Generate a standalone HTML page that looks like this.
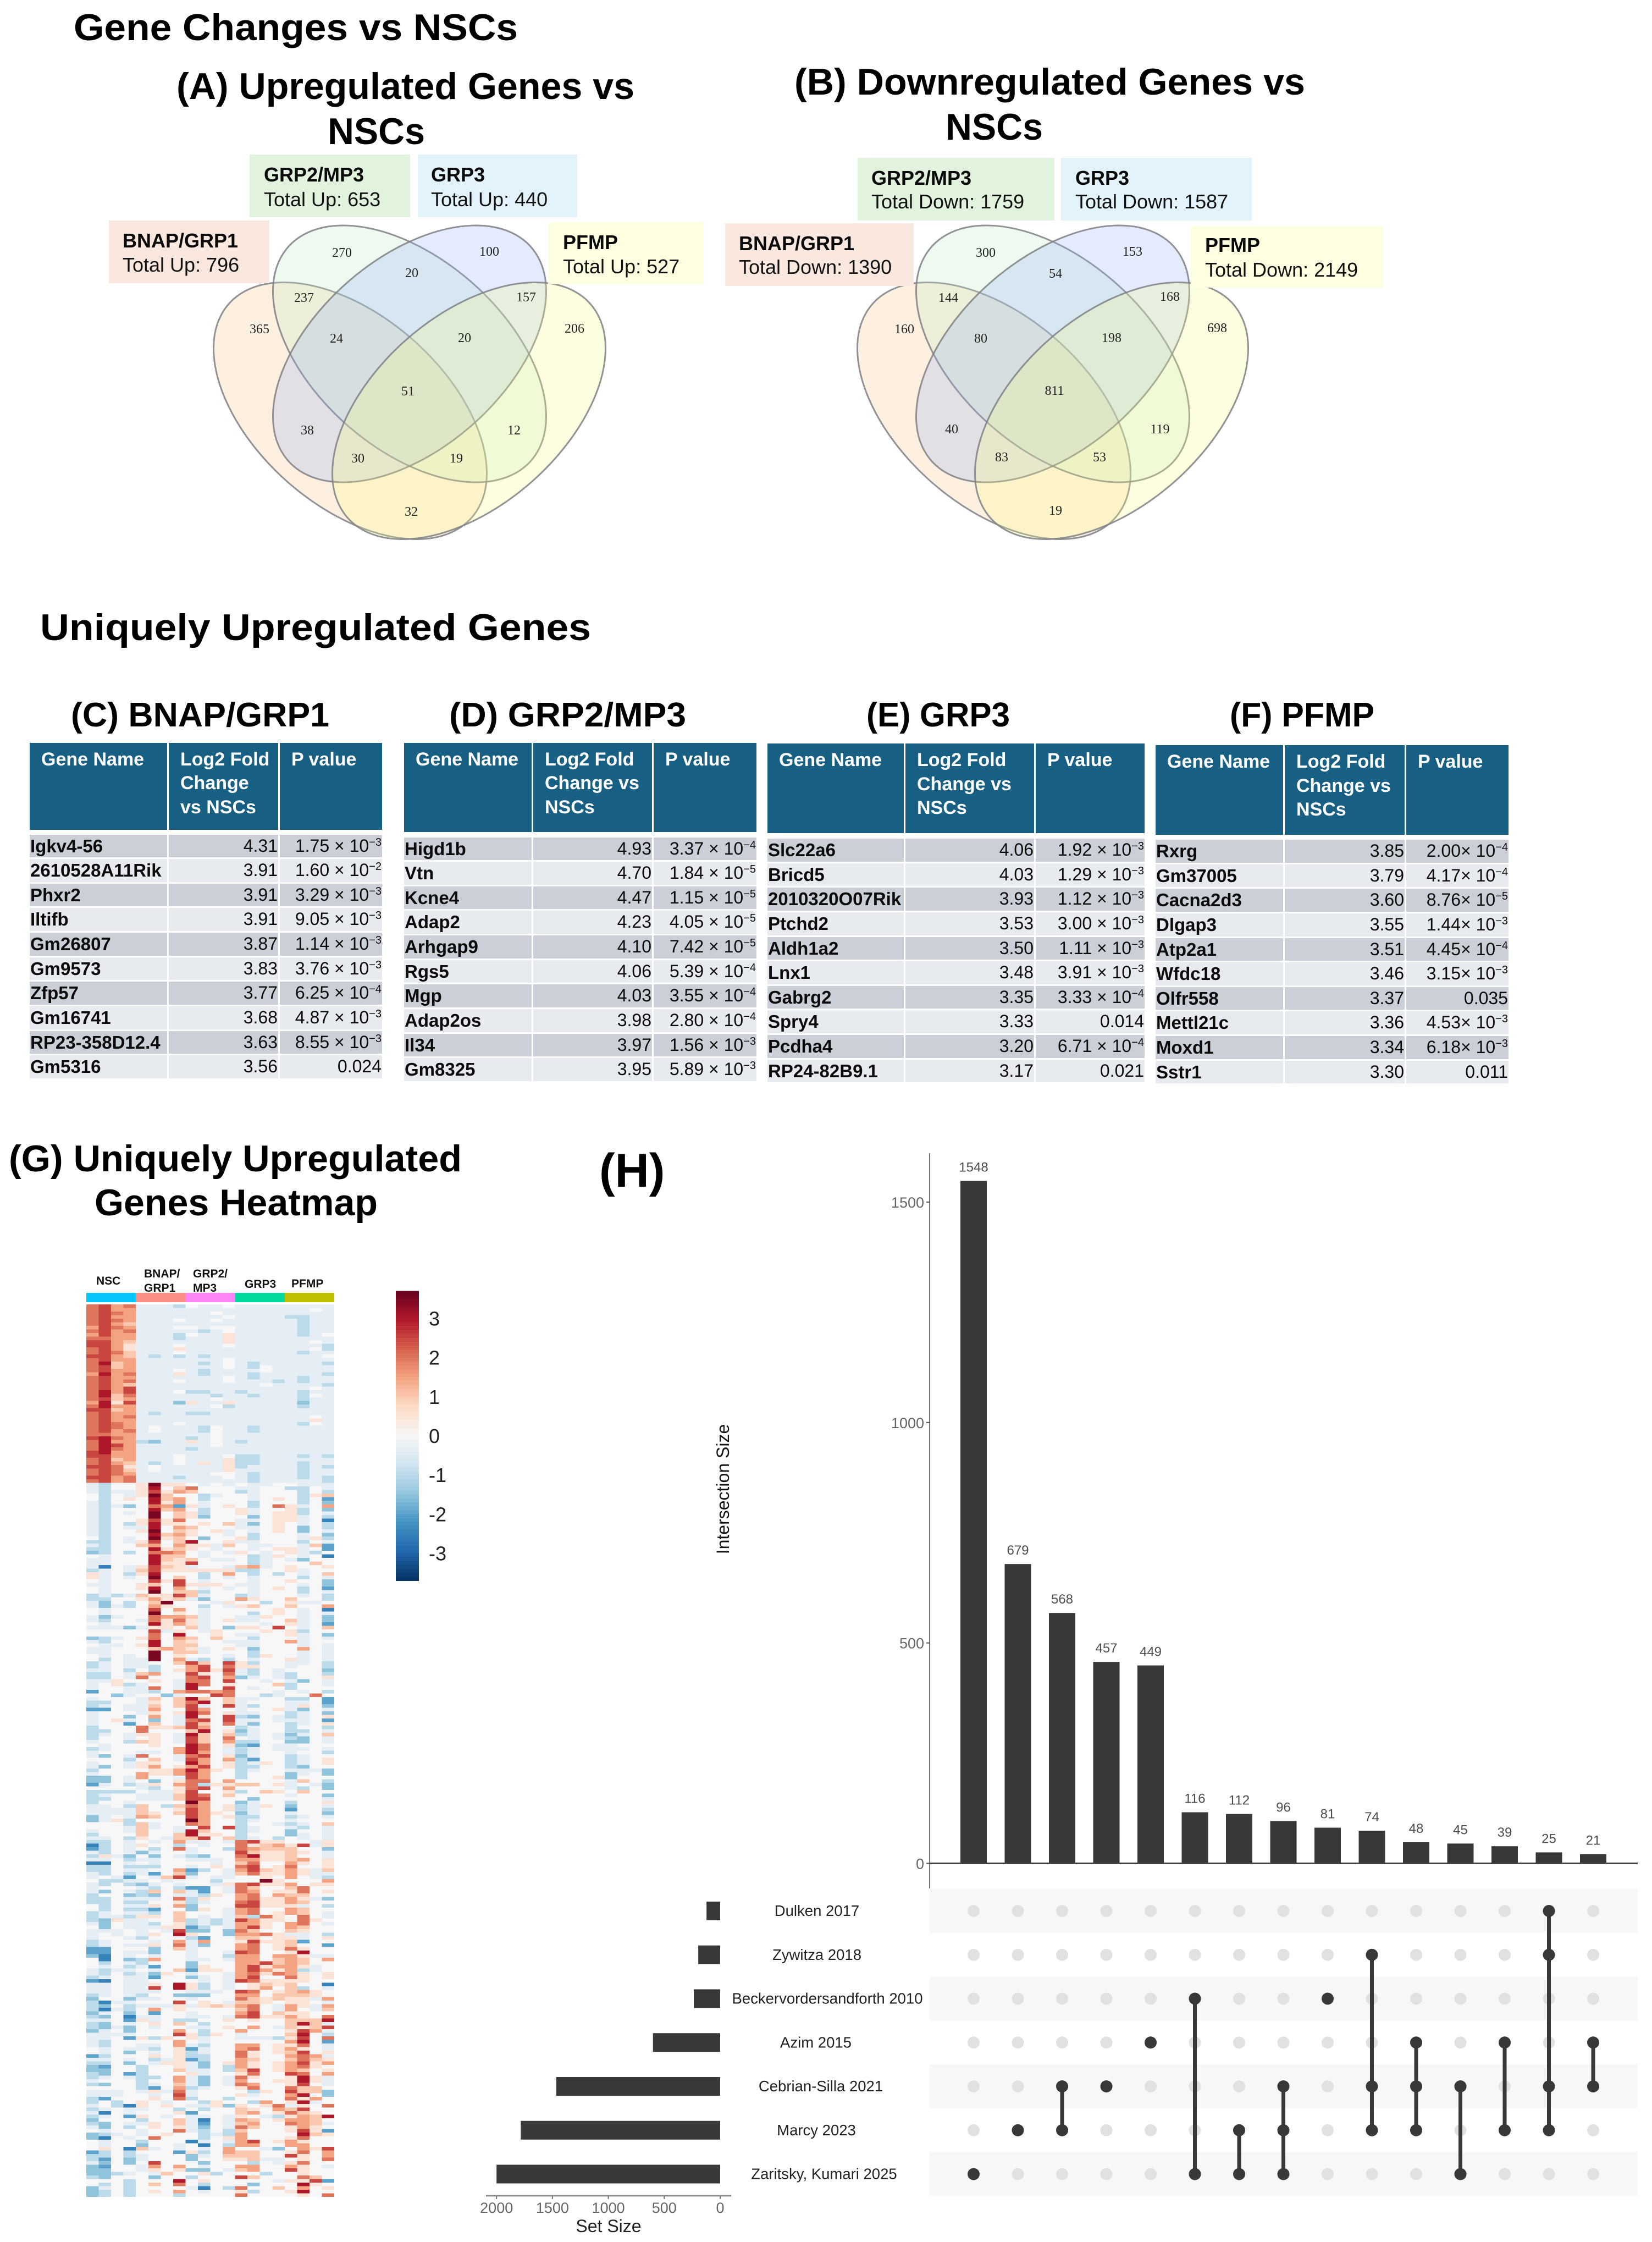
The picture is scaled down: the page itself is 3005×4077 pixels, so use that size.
<!DOCTYPE html>
<html lang="en">
<head>
<meta charset="utf-8">
<title>Gene Changes vs NSCs</title>
<style>
html,body{margin:0;padding:0;background:#fff}
body{position:relative;width:3005px;height:4077px;overflow:hidden;font-family:"Liberation Sans",sans-serif;color:#000}
#canvas{position:absolute;left:0;top:0}
#canvas text{font-family:"Liberation Sans",sans-serif}
.t{font-weight:700;font-size:68px;fill:#000}
.lb{font-weight:700;font-size:36px;fill:#0a0a0a}
.lr{font-size:36px;fill:#111}
#canvas text.vn{font-family:"Liberation Serif",serif;font-size:24px;fill:#222;text-anchor:middle;dominant-baseline:central}
.ve{stroke:#7f8085;stroke-width:3;stroke-opacity:.85;fill-opacity:.25;vector-effect:non-scaling-stroke}
.tbl{position:absolute;color:#0b0b0b}
.tr{display:grid;grid-template-columns:var(--c);height:44.65px}
.tr>div{box-sizing:border-box;border-right:3px solid #fff;border-bottom:3px solid #fff;line-height:41px;white-space:nowrap;overflow:hidden;font-size:32px;text-align:right;padding-right:1px}
.tr>div:first-child{text-align:left;font-weight:700;font-size:33px;padding-left:1px}
.tr>div:last-child{border-right:0}
.tr:nth-child(even)>div{background:#cbd0d8}
.tr:nth-child(odd)>div{background:#e7eaee}
.tr.hd{height:var(--h);margin-bottom:var(--g)}
.tr.hd>div,.tr.hd>div:first-child{background:#185f84;color:#fff;font-weight:700;font-size:34px;line-height:43.5px;text-align:left;padding:9px 0 0 21px;border-bottom:0;white-space:nowrap}
sup{font-size:20px;line-height:0;vertical-align:baseline;position:relative;top:-11px}
</style>
</head>
<body>
<svg id="canvas" width="3005" height="4077" viewBox="0 0 3005 4077" xmlns="http://www.w3.org/2000/svg">
<text class="t" x="134" y="73" textLength="808" lengthAdjust="spacingAndGlyphs">Gene Changes vs NSCs</text>
<text class="t" x="321" y="180" textLength="833" lengthAdjust="spacingAndGlyphs">(A) Upregulated Genes vs</text>
<text class="t" x="596" y="262" textLength="177" lengthAdjust="spacingAndGlyphs">NSCs</text>
<text class="t" x="1445" y="172" textLength="929" lengthAdjust="spacingAndGlyphs">(B) Downregulated Genes vs</text>
<text class="t" x="1720" y="254" textLength="177" lengthAdjust="spacingAndGlyphs">NSCs</text>

<g>
<g transform="translate(637,747) scale(1,.743) rotate(-32)"><ellipse class="ve" rx="195" ry="350" fill="#fcc484"/></g>
<g transform="translate(745,643.5) scale(1,.743) rotate(-32)"><ellipse class="ve" rx="195" ry="350" fill="#bcecc4"/></g>
<g transform="translate(745,643.5) scale(1,.743) rotate(32)"><ellipse class="ve" rx="195" ry="350" fill="#94b0f4"/></g>
<g transform="translate(853,747) scale(1,.743) rotate(32)"><ellipse class="ve" rx="195" ry="350" fill="#f8fc84"/></g>
<g>
<text class="vn" x="622" y="460">270</text><text class="vn" x="890" y="458">100</text><text class="vn" x="749" y="497">20</text><text class="vn" x="553" y="542">237</text><text class="vn" x="957" y="541">157</text><text class="vn" x="472" y="599">365</text><text class="vn" x="612" y="616">24</text><text class="vn" x="845" y="615">20</text><text class="vn" x="1045" y="598">206</text><text class="vn" x="742" y="712">51</text><text class="vn" x="559" y="783">38</text><text class="vn" x="935" y="783">12</text><text class="vn" x="651" y="834">30</text><text class="vn" x="830" y="834">19</text><text class="vn" x="748" y="931">32</text>
</g>
</g>
<g>
<rect x="454" y="281" width="292" height="114" fill="#e1f3dc"/>
<text class="lb" x="480" y="330">GRP2/MP3</text><text class="lr" x="480" y="375">Total Up: 653</text>
<rect x="760" y="281" width="290" height="114" fill="#e3f3fb"/>
<text class="lb" x="784" y="330">GRP3</text><text class="lr" x="784" y="375">Total Up: 440</text>
<rect x="198" y="401" width="292" height="114" fill="#fae8df"/>
<text class="lb" x="223" y="450">BNAP/GRP1</text><text class="lr" x="223" y="494">Total Up: 796</text>
<rect x="997" y="404" width="282" height="113" fill="#fefee0"/>
<text class="lb" x="1024" y="453">PFMP</text><text class="lr" x="1024" y="497">Total Up: 527</text>
</g>

<g>
<g transform="translate(1808,747) scale(1,.743) rotate(-32)"><ellipse class="ve" rx="195" ry="350" fill="#fcc484"/></g>
<g transform="translate(1915,643.5) scale(1,.743) rotate(-32)"><ellipse class="ve" rx="195" ry="350" fill="#bcecc4"/></g>
<g transform="translate(1915,643.5) scale(1,.743) rotate(32)"><ellipse class="ve" rx="195" ry="350" fill="#94b0f4"/></g>
<g transform="translate(2022,747) scale(1,.743) rotate(32)"><ellipse class="ve" rx="195" ry="350" fill="#f8fc84"/></g>
<g>
<text class="vn" x="1793" y="460">300</text><text class="vn" x="2060" y="458">153</text><text class="vn" x="1920" y="498">54</text><text class="vn" x="1725" y="542">144</text><text class="vn" x="2128" y="540">168</text><text class="vn" x="1645" y="599">160</text><text class="vn" x="1784" y="616">80</text><text class="vn" x="2022" y="615">198</text><text class="vn" x="2214" y="597">698</text><text class="vn" x="1918" y="711">811</text><text class="vn" x="1731" y="781">40</text><text class="vn" x="2110" y="781">119</text><text class="vn" x="1822" y="832">83</text><text class="vn" x="2000" y="832">53</text><text class="vn" x="1920" y="929">19</text>
</g>
</g>
<g>
<rect x="1560" y="287" width="358" height="114" fill="#e1f3dc"/>
<text class="lb" x="1585" y="336">GRP2/MP3</text><text class="lr" x="1585" y="379">Total Down: 1759</text>
<rect x="1930" y="287" width="347" height="114" fill="#e3f3fb"/>
<text class="lb" x="1956" y="336">GRP3</text><text class="lr" x="1956" y="379">Total Down: 1587</text>
<rect x="1319" y="406" width="343" height="114" fill="#fae8df"/>
<text class="lb" x="1344" y="455">BNAP/GRP1</text><text class="lr" x="1344" y="498">Total Down: 1390</text>
<rect x="2166" y="411" width="349" height="112" fill="#fefee0"/>
<text class="lb" x="2192" y="458">PFMP</text><text class="lr" x="2192" y="503">Total Down: 2149</text>
</g>

<text class="t" x="73" y="1164" textLength="1002" lengthAdjust="spacingAndGlyphs">Uniquely Upregulated Genes</text>
<text class="t" x="129" y="1321" style="font-size:62px" textLength="470" lengthAdjust="spacingAndGlyphs">(C) BNAP/GRP1</text>
<text class="t" x="817" y="1321" style="font-size:62px" textLength="431" lengthAdjust="spacingAndGlyphs">(D) GRP2/MP3</text>
<text class="t" x="1576" y="1321" style="font-size:62px" textLength="261" lengthAdjust="spacingAndGlyphs">(E) GRP3</text>
<text class="t" x="2237" y="1321" style="font-size:62px" textLength="263" lengthAdjust="spacingAndGlyphs">(F) PFMP</text>

<text class="t" x="16" y="2130" textLength="824" lengthAdjust="spacingAndGlyphs">(G) Uniquely Upregulated</text>
<text class="t" x="172" y="2210" textLength="515" lengthAdjust="spacingAndGlyphs">Genes Heatmap</text>
<text class="t" x="1090" y="2158" style="font-size:86px">(H)</text>

<g id="heatmap"></g>
<g id="colorbar"></g>
<g id="upset"></g>
</svg>

<div class="tbl" style="left:54px;top:1350.5px;--c:253px 202px 186px;--h:158px;--g:9px">
<div class="tr hd"><div>Gene Name</div><div>Log2 Fold<br>Change<br>vs NSCs</div><div>P value</div></div>
<div class="tr"><div>Igkv4-56</div><div>4.31</div><div>1.75 × 10<sup>−3</sup></div></div>
<div class="tr"><div>2610528A11Rik</div><div>3.91</div><div>1.60 × 10<sup>−2</sup></div></div>
<div class="tr"><div>Phxr2</div><div>3.91</div><div>3.29 × 10<sup>−3</sup></div></div>
<div class="tr"><div>Iltifb</div><div>3.91</div><div>9.05 × 10<sup>−3</sup></div></div>
<div class="tr"><div>Gm26807</div><div>3.87</div><div>1.14 × 10<sup>−3</sup></div></div>
<div class="tr"><div>Gm9573</div><div>3.83</div><div>3.76 × 10<sup>−3</sup></div></div>
<div class="tr"><div>Zfp57</div><div>3.77</div><div>6.25 × 10<sup>−4</sup></div></div>
<div class="tr"><div>Gm16741</div><div>3.68</div><div>4.87 × 10<sup>−3</sup></div></div>
<div class="tr"><div>RP23-358D12.4</div><div>3.63</div><div>8.55 × 10<sup>−3</sup></div></div>
<div class="tr"><div>Gm5316</div><div>3.56</div><div>0.024</div></div>
</div>

<div class="tbl" style="left:735px;top:1350.5px;--c:235px 219px 187px;--h:162px;--g:10px">
<div class="tr hd"><div>Gene Name</div><div>Log2 Fold<br>Change vs<br>NSCs</div><div>P value</div></div>
<div class="tr"><div>Higd1b</div><div>4.93</div><div>3.37 × 10<sup>−4</sup></div></div>
<div class="tr"><div>Vtn</div><div>4.70</div><div>1.84 × 10<sup>−5</sup></div></div>
<div class="tr"><div>Kcne4</div><div>4.47</div><div>1.15 × 10<sup>−5</sup></div></div>
<div class="tr"><div>Adap2</div><div>4.23</div><div>4.05 × 10<sup>−5</sup></div></div>
<div class="tr"><div>Arhgap9</div><div>4.10</div><div>7.42 × 10<sup>−5</sup></div></div>
<div class="tr"><div>Rgs5</div><div>4.06</div><div>5.39 × 10<sup>−4</sup></div></div>
<div class="tr"><div>Mgp</div><div>4.03</div><div>3.55 × 10<sup>−4</sup></div></div>
<div class="tr"><div>Adap2os</div><div>3.98</div><div>2.80 × 10<sup>−4</sup></div></div>
<div class="tr"><div>Il34</div><div>3.97</div><div>1.56 × 10<sup>−3</sup></div></div>
<div class="tr"><div>Gm8325</div><div>3.95</div><div>5.89 × 10<sup>−3</sup></div></div>
</div>

<div class="tbl" style="left:1396px;top:1352px;--c:251px 237px 198px;--h:163px;--g:10px">
<div class="tr hd"><div>Gene Name</div><div>Log2 Fold<br>Change vs<br>NSCs</div><div>P value</div></div>
<div class="tr"><div>Slc22a6</div><div>4.06</div><div>1.92 × 10<sup>−3</sup></div></div>
<div class="tr"><div>Bricd5</div><div>4.03</div><div>1.29 × 10<sup>−3</sup></div></div>
<div class="tr"><div>2010320O07Rik</div><div>3.93</div><div>1.12 × 10<sup>−3</sup></div></div>
<div class="tr"><div>Ptchd2</div><div>3.53</div><div>3.00 × 10<sup>−3</sup></div></div>
<div class="tr"><div>Aldh1a2</div><div>3.50</div><div>1.11 × 10<sup>−3</sup></div></div>
<div class="tr"><div>Lnx1</div><div>3.48</div><div>3.91 × 10<sup>−3</sup></div></div>
<div class="tr"><div>Gabrg2</div><div>3.35</div><div>3.33 × 10<sup>−4</sup></div></div>
<div class="tr"><div>Spry4</div><div>3.33</div><div>0.014</div></div>
<div class="tr"><div>Pcdha4</div><div>3.20</div><div>6.71 × 10<sup>−4</sup></div></div>
<div class="tr"><div>RP24-82B9.1</div><div>3.17</div><div>0.021</div></div>
</div>

<div class="tbl" style="left:2102px;top:1355px;--c:235px 221px 186px;--h:163px;--g:9px">
<div class="tr hd"><div>Gene Name</div><div>Log2 Fold<br>Change vs<br>NSCs</div><div>P value</div></div>
<div class="tr"><div>Rxrg</div><div>3.85</div><div>2.00× 10<sup>−4</sup></div></div>
<div class="tr"><div>Gm37005</div><div>3.79</div><div>4.17× 10<sup>−4</sup></div></div>
<div class="tr"><div>Cacna2d3</div><div>3.60</div><div>8.76× 10<sup>−5</sup></div></div>
<div class="tr"><div>Dlgap3</div><div>3.55</div><div>1.44× 10<sup>−3</sup></div></div>
<div class="tr"><div>Atp2a1</div><div>3.51</div><div>4.45× 10<sup>−4</sup></div></div>
<div class="tr"><div>Wfdc18</div><div>3.46</div><div>3.15× 10<sup>−3</sup></div></div>
<div class="tr"><div>Olfr558</div><div>3.37</div><div>0.035</div></div>
<div class="tr"><div>Mettl21c</div><div>3.36</div><div>4.53× 10<sup>−3</sup></div></div>
<div class="tr"><div>Moxd1</div><div>3.34</div><div>6.18× 10<sup>−3</sup></div></div>
<div class="tr"><div>Sstr1</div><div>3.30</div><div>0.011</div></div>
</div>

<script>
// Heatmap values in half z-score units (value / 2 = z-score), one row per gene, 20 samples per row.
const heatGroupNames = ["NSC","BNAP/GRP1","GRP2/MP3","GRP3","PFMP"];
const heatNscGenes = [
[4,5,3,4,-1,-1,-1,-2,0,-1,-1,0,-1,-1,-1,-1,-1,-1,-1,-1],
[4,5,3,3,-1,-1,-1,-1,-1,-1,-1,-1,-1,-1,-1,-1,-1,-1,0,-1],
[4,5,4,3,-1,-1,-1,-1,-1,-1,0,-1,-1,-1,-1,-1,-1,-1,-1,-1],
[4,5,3,3,-1,-1,-1,-1,-1,-1,-1,0,-1,-1,-1,-1,-2,-2,-1,-1],
[4,5,4,3,-1,-1,-1,0,-1,-1,0,-1,-1,-1,-1,-1,-1,-2,-1,-1],
[4,5,3,2,-1,-1,-1,-1,-1,-1,-1,-1,-1,-1,-1,-1,-1,-2,-1,-1],
[3,5,4,3,-1,-1,-1,0,0,-1,0,0,-1,-1,-1,-1,-1,-2,-1,-1],
[4,5,3,4,-1,-1,-1,-1,-1,-2,-1,0,-1,-1,-1,-1,-1,-2,-1,-1],
[3,5,3,3,-1,-1,-1,-2,0,-1,-1,1,-1,-1,-1,-1,-1,-2,-1,0],
[4,4,3,3,-1,-1,-1,-2,-1,-1,-1,1,-1,-1,-1,-1,-1,-1,-1,-1],
[5,5,3,2,-1,-1,-1,-1,-1,-1,-1,1,-1,-1,-1,-1,-1,-1,0,-1],
[5,5,3,1,-1,-1,-1,0,-1,-1,-1,0,-1,-1,-1,-1,-1,-1,-1,-2],
[4,5,3,1,-1,-1,-1,1,-1,-1,-1,-1,-1,-1,-1,-1,-1,-1,0,-2],
[4,5,4,2,-1,-1,-1,0,-1,-1,-1,-1,-1,-1,-1,-1,-1,-2,-1,-1],
[5,5,3,2,-1,-2,-1,-2,-1,-2,-1,-1,-1,-1,-1,-1,-1,-1,-1,0],
[4,5,3,3,-1,-1,-1,-1,-1,-1,-1,0,-1,-1,-1,-1,-1,-1,-1,-1],
[4,6,2,3,-1,-1,-1,-1,-1,-2,-1,0,-1,-2,-1,-1,-1,-1,-1,-2],
[4,5,2,3,-1,-1,-1,-1,-1,-1,-1,0,-1,-2,0,-1,-1,-1,-1,-1],
[4,5,3,3,-1,-1,-1,0,-1,-2,-1,-1,-1,-1,0,-1,-1,-1,-1,-1],
[3,6,3,4,-1,-1,-1,1,-1,-2,-1,-1,-1,-2,-1,-1,-1,-1,-1,-2],
[4,5,3,3,-1,-1,-1,-1,-1,-1,-1,0,-1,-2,-1,-1,-1,-2,-1,-1],
[4,5,3,4,-1,-1,-1,0,-1,-1,-1,0,-1,-1,-1,-2,-1,-2,-1,-1],
[4,5,3,2,-1,-1,-1,-1,-1,-1,-1,-1,-1,-1,0,-1,-1,-1,-1,-2],
[4,5,3,5,-1,-1,-1,-1,-1,-1,-1,-1,-1,-1,-1,-1,-1,-1,0,-1],
[4,6,3,5,-1,-1,-1,0,-2,-2,-1,-1,-2,-1,-1,-1,-1,-2,-1,-1],
[4,6,2,4,-1,-1,-1,-1,-1,-1,-2,-1,-1,-2,-1,-1,-1,-2,0,-1],
[4,5,2,3,-1,-1,-1,-1,-1,-1,0,-1,-1,-1,-1,-1,-1,-2,-1,-1],
[3,6,1,5,-1,-1,-1,-3,1,-1,-1,1,-1,-1,-1,-1,-1,-3,-1,-1],
[4,6,3,3,-1,-1,-1,-1,-1,-1,0,-2,-1,-1,-1,-1,-1,-2,-1,-1],
[5,5,2,3,-1,-1,-1,-1,-1,-1,-1,-1,-1,-1,-1,-1,-1,-1,-1,-1],
[4,5,3,3,-1,-2,-1,-1,-2,-2,-1,-1,-1,-1,-1,-1,-1,-1,-1,-1],
[4,5,3,4,-1,-1,-1,-1,-1,-1,-1,-1,-1,-1,-1,-1,-1,-1,0,-1],
[4,5,3,3,-1,-1,-1,-1,-1,-1,-1,-1,-1,-1,-1,-1,-1,-1,1,-1],
[4,5,4,3,-1,-1,-1,0,-1,-1,-1,-1,-1,-1,-1,-1,-1,-2,0,-1],
[4,5,4,3,-1,0,-1,-1,-1,-2,0,-1,-1,-2,-1,-1,-1,-1,-1,-1],
[4,5,3,4,-1,0,-1,-1,-1,-2,0,-1,-1,-2,-1,-1,-1,-1,-1,-1],
[4,4,3,3,-1,-1,-1,-1,-1,-1,0,-1,-1,-1,-1,-1,-1,-1,-1,-1],
[5,6,4,3,-1,-1,-1,-1,-2,-1,0,-1,-1,-1,-1,-1,-1,-1,-1,-1],
[4,6,3,3,-2,-3,-1,-1,1,-1,0,-1,-2,-1,-1,-1,-1,-1,-1,-1],
[4,6,5,3,-1,-1,-1,-1,-1,-1,0,-1,-1,-1,-1,-1,-1,-1,-1,-1],
[4,6,4,3,-1,-1,-1,-1,-2,-1,-1,-1,-1,-1,-1,-1,-1,-1,-1,-1],
[5,6,3,3,-1,-1,-1,-1,-1,-1,-1,-1,-1,-1,-1,-1,-1,-1,-1,-1],
[5,5,3,3,-1,-1,-1,0,-1,-1,-1,0,-2,-2,-1,-1,-1,-2,-1,-2],
[4,5,2,3,-1,-1,-1,0,-1,-1,-1,1,-2,-2,-1,-1,-1,-1,-1,-1],
[4,5,3,2,-1,-2,-1,0,-1,1,-1,1,-2,-2,-1,-1,-1,-2,-1,-1],
[5,5,4,1,-1,0,-1,-1,-1,-1,-1,1,-2,-1,-1,-1,-1,-2,-1,-2],
[4,5,4,2,-1,0,-1,-1,-1,-1,-1,1,-1,-1,-1,-1,-1,-2,-1,-1],
[4,5,4,3,-1,-1,-1,-1,-1,-1,0,0,-1,-2,-1,-1,-1,-2,-1,-1],
[5,5,3,4,-1,-1,-1,-2,-1,-1,-1,0,-1,-2,-1,-1,-1,-2,-1,-2],
[4,5,3,4,-1,-1,-1,-1,-1,-1,-1,-1,-1,-2,-1,-1,-1,-1,-1,-2]
];
const heatBnapGenes = [
[-1,-2,0,0,1,7,1,1,0,-1,0,-1,0,-1,-1,0,0,-1,-1,-1],
[-1,-2,0,0,1,6,0,2,4,0,0,0,-1,-1,0,0,-2,-2,0,-1],
[-1,-2,-1,-1,1,5,1,3,2,0,0,0,-2,-1,0,0,0,-2,0,-2],
[0,-2,0,-1,1,7,2,0,0,-2,-1,0,0,-1,0,0,0,-2,1,2],
[0,-2,0,1,0,6,2,3,0,-2,0,0,0,-1,0,1,0,-2,0,-4],
[-1,-2,0,0,0,6,1,3,0,-1,0,0,0,-2,0,0,0,-2,0,-3],
[-1,-2,-1,-3,0,4,3,-4,1,-1,0,1,0,-2,0,4,1,-1,0,3],
[-1,-2,0,0,0,6,2,3,0,-2,0,0,1,-1,0,0,1,-2,0,-3],
[-1,-2,0,-1,0,7,0,2,1,-2,0,0,1,-1,0,1,1,-2,0,-1],
[-1,-2,0,0,0,7,0,2,1,-3,0,0,0,-3,0,1,1,-1,0,-2],
[-1,-2,0,0,1,5,1,4,0,0,0,0,-1,-1,0,1,1,-1,0,-5],
[-1,-2,0,-2,1,6,1,1,0,1,0,2,-1,-3,0,1,0,-1,0,-2],
[-1,-2,0,-1,-1,6,0,3,2,0,0,0,-1,-1,0,1,0,-3,0,-2],
[-1,-2,0,0,1,7,0,2,1,0,1,-1,0,-1,0,1,0,-3,0,-1],
[-1,-2,0,0,0,6,2,3,1,0,0,-1,0,-2,0,0,0,-1,0,-3],
[0,-2,0,-1,0,7,1,2,0,-3,0,0,1,-2,0,0,0,-1,1,-2],
[-2,-2,0,-1,1,5,0,2,6,0,0,1,-1,-1,0,0,0,-2,0,-1],
[-1,-2,0,0,2,3,0,3,1,1,-1,2,0,-1,-1,0,0,-1,2,-4],
[-2,-2,0,0,0,6,1,2,1,0,-1,0,0,-1,0,1,1,-1,0,-4],
[-3,-2,0,-2,0,4,4,3,0,-1,0,-1,1,0,-1,0,1,-1,-2,0],
[0,-1,0,0,0,6,2,2,0,-1,0,0,0,-2,-1,1,0,-1,0,-5],
[-1,-1,0,0,0,6,2,1,2,0,-1,-1,0,-2,-1,0,-1,-3,0,0],
[-1,-1,0,0,0,6,1,1,5,0,0,0,0,-2,-1,0,0,0,2,0],
[-1,-5,0,-1,1,5,2,1,-1,0,0,-1,2,3,-1,0,1,0,0,1],
[-2,-1,0,-1,2,5,1,1,1,1,1,1,-2,-2,0,0,1,-1,0,0],
[1,-1,0,-2,1,6,0,0,0,-2,0,3,0,-2,0,-2,0,-1,0,2],
[1,-1,0,-1,0,7,0,2,0,-2,0,-1,0,-1,0,0,0,-2,0,-1],
[0,-1,0,0,0,5,1,5,0,-1,0,0,0,-1,0,0,1,0,0,-3],
[-1,-1,0,0,1,2,0,5,1,1,1,0,-1,-1,0,0,0,-1,0,-3],
[0,-1,0,0,1,6,0,3,0,-1,0,-1,0,-1,0,1,0,-2,0,-4],
[0,-1,0,0,0,7,0,2,2,-2,0,0,0,-1,0,0,0,-2,0,-1],
[-2,-1,-2,-1,2,1,1,5,2,-1,0,0,-2,-1,0,0,0,-1,0,-2],
[-2,-2,0,0,1,3,1,2,-1,-3,0,0,3,1,0,0,2,0,0,-2],
[-1,-3,0,-2,0,2,7,0,0,0,-1,1,0,0,-2,0,1,-1,-1,0],
[-1,-3,-1,-2,0,3,1,0,0,-2,0,-1,1,2,0,0,2,0,0,3],
[0,-1,0,0,0,5,0,3,0,-1,0,0,0,0,0,1,0,-1,0,-5],
[0,-1,0,0,0,7,0,1,0,-1,0,0,0,-2,0,1,0,-1,0,-1],
[-1,-3,-1,0,0,4,3,3,2,-1,0,0,-1,-1,1,0,0,-1,0,-3],
[-1,-2,0,0,-1,4,1,4,1,-1,0,1,-1,-1,0,0,2,-1,0,-3],
[0,-1,0,0,0,6,1,3,1,-1,0,0,0,0,-1,0,1,-1,0,-4],
[-1,-1,-1,-3,-1,1,1,0,2,-1,0,-3,1,1,0,5,0,-1,0,2],
[0,0,0,0,0,5,-1,1,0,-1,1,0,0,0,1,0,1,-2,0,0],
[0,0,0,0,0,4,0,6,0,0,1,0,-1,-1,0,0,1,-1,0,-3],
[-3,-2,-1,0,1,4,0,3,2,0,2,0,0,-2,0,0,0,-1,0,-1],
[-1,-2,0,0,0,6,0,2,1,0,0,-1,-1,-1,0,0,3,-1,0,0],
[0,-1,-1,0,1,6,0,2,2,0,0,0,-1,-1,0,0,0,-1,0,-1],
[-1,-1,0,0,0,2,3,2,1,-1,0,1,0,-3,0,0,0,3,0,-1],
[-1,-1,0,0,0,7,0,2,2,-1,0,0,0,-2,0,0,0,-1,0,-1],
[0,-1,0,-1,0,7,0,1,0,0,0,-1,0,-2,1,0,0,-1,0,-1],
[0,-2,0,-1,-1,7,0,3,-1,-2,0,-2,0,-1,0,0,1,-1,0,-1]
];
const heatGrp2Genes = [
[-2,-1,0,-1,-1,0,0,2,5,2,0,5,1,-2,0,0,-1,-1,0,-2],
[-2,-1,0,-1,-1,-2,0,0,3,5,0,4,1,1,0,0,-1,0,0,-2],
[-1,-1,0,-2,0,-2,0,1,3,5,1,5,-1,-2,0,-1,0,0,0,-3],
[-2,-2,0,-1,2,3,0,0,5,1,0,4,-1,-2,0,-1,-2,0,0,-2],
[-2,-2,0,-1,4,0,0,0,4,5,0,3,-3,-1,0,-1,-2,0,0,1],
[-1,-1,1,0,0,1,0,-1,4,4,0,5,0,0,-1,0,-1,-3,0,-1],
[-1,0,1,-2,-1,0,0,-1,6,4,0,1,0,0,0,2,-2,0,0,-1],
[-1,0,0,-1,-1,4,0,-1,6,0,0,5,0,-1,0,0,-2,0,0,0],
[-4,0,0,-1,-1,-2,0,3,4,4,3,4,0,0,0,-1,0,-1,0,-2],
[0,0,-3,-1,0,0,-3,-1,0,0,5,4,0,0,-2,-1,0,0,4,0],
[-1,0,0,0,-1,2,0,2,6,2,0,2,-1,-1,0,0,-2,-2,0,-4],
[-2,-2,0,0,-1,1,0,2,4,6,0,2,-1,0,0,0,-1,-1,0,-4],
[-2,-1,0,-1,-1,2,0,2,5,-1,0,5,-1,-2,0,0,-1,1,0,-3],
[-4,-4,0,-1,-1,3,0,0,5,3,0,0,-1,0,0,1,-1,-3,0,-1],
[-1,0,0,0,-1,1,0,1,6,4,0,1,-1,-1,0,0,-2,-1,0,-3],
[-1,0,0,-3,0,3,0,-1,6,1,0,5,-2,-3,0,-1,-2,-1,0,1],
[-1,0,1,-1,0,-3,0,-1,4,5,0,5,-1,-1,0,-1,-1,-1,0,-4],
[-1,0,0,-4,0,2,0,-1,5,2,0,4,-1,-3,0,0,-2,-1,0,1],
[-2,0,0,0,4,1,1,2,5,3,0,0,-2,-1,0,0,-2,0,0,-2],
[-2,-2,0,0,4,0,0,0,2,6,0,1,-3,-1,0,0,-2,-2,0,-1],
[-2,-1,0,-1,1,1,0,-1,6,2,0,2,-2,-1,0,-1,-3,-1,0,2],
[-2,0,0,-1,0,1,0,-1,5,2,0,4,0,-1,0,-1,-2,-3,0,-1],
[-1,0,0,-2,2,1,0,-1,5,2,0,3,-2,-2,0,0,-3,-3,0,-1],
[0,-1,0,0,0,1,0,0,6,4,0,1,-3,-4,0,-1,-1,0,0,0],
[-2,-1,0,0,0,0,0,3,6,4,0,-1,-2,-1,0,-1,-1,-1,0,-1],
[-1,0,0,0,-1,-1,0,3,6,3,0,-1,-2,-1,0,0,-1,0,0,-2],
[-1,-3,0,-1,4,0,0,-1,4,5,0,1,-3,-1,0,0,-2,-1,0,0],
[0,0,0,-2,0,2,0,-1,5,3,0,3,-2,-4,0,0,-2,-1,0,1],
[-1,0,0,-1,1,1,0,0,6,3,0,1,-2,-1,1,0,-2,-1,0,1],
[-1,-3,0,-1,1,3,0,1,3,5,0,1,-2,-2,0,0,-2,-3,0,0],
[-2,0,0,0,0,1,1,3,6,3,1,0,-2,-1,0,0,-1,-1,-1,-3],
[-1,0,0,0,3,1,1,3,5,3,0,0,-2,0,0,0,-3,-1,0,-3],
[-3,-3,0,-1,3,0,0,-1,5,3,0,0,-2,0,0,1,-3,0,0,0],
[-3,-3,0,-1,0,-3,0,1,4,4,0,3,0,0,0,0,-1,2,0,-2],
[-4,-1,0,-2,-1,1,0,3,4,-2,1,1,2,2,0,1,-1,0,-1,-3],
[0,0,0,0,-1,-2,0,1,4,5,0,3,0,0,0,0,-1,-2,0,-3],
[-2,-2,-2,-2,0,-1,-1,1,5,0,0,1,-2,0,2,1,0,2,0,0],
[-2,-1,0,0,-1,-1,-1,2,5,4,0,2,0,0,0,0,-1,0,0,-3],
[-2,-2,0,0,-1,-1,-1,2,5,5,0,0,0,-3,0,0,0,0,0,-1],
[-2,0,0,-1,0,0,0,0,7,3,0,0,-3,-1,0,0,-2,0,0,1],
[-1,-1,0,-2,2,0,-2,2,4,3,0,1,-2,-1,1,0,-3,0,0,-1],
[-1,-1,-1,-1,2,0,0,1,5,3,0,1,-2,-1,0,0,-4,0,0,-2],
[-1,-1,-1,-1,2,1,0,2,5,3,1,0,-3,-1,0,0,-1,0,0,-3],
[-3,-1,0,-1,3,2,0,0,5,3,0,1,-2,-2,0,0,-2,-1,0,-1],
[-3,-1,1,-2,0,0,0,0,7,3,0,0,-2,-1,0,0,-1,0,0,0],
[0,0,0,-2,2,-1,0,0,4,3,0,0,-2,0,0,-1,-2,-1,0,2],
[0,0,0,-1,2,-1,0,-1,0,5,0,5,-2,-1,0,0,-1,-2,0,-1],
[-1,0,0,-1,2,0,0,-1,6,2,0,0,-2,-1,0,0,-3,0,0,-1],
[-2,0,0,0,2,0,0,2,6,1,1,0,-2,0,0,0,-3,-1,0,-1],
[-1,-1,0,-2,1,0,-1,2,2,5,0,2,-2,-1,0,-2,0,-1,0,-1]
];
const heatGrp3Genes = [
[-2,-2,0,-1,0,-1,0,3,-1,-1,0,-1,4,5,1,1,0,0,-1,1],
[-5,-2,0,-1,1,0,0,-2,0,-1,0,0,4,1,2,3,1,5,-1,1],
[-4,-2,0,-1,0,-2,0,4,-1,0,0,-2,4,3,2,2,2,0,0,-3],
[-1,-2,0,-1,-3,-1,0,0,-1,0,0,0,5,2,1,1,2,1,0,-1],
[-2,1,-1,-3,0,-3,0,-1,-2,-3,0,0,4,6,1,1,2,0,0,-1],
[-1,-1,0,-2,-1,-1,0,0,-1,-1,-1,0,3,3,1,1,2,3,0,1],
[-5,-5,0,-1,0,-1,0,0,0,0,-1,0,2,4,0,0,3,1,0,1],
[-2,-2,0,-2,-2,-2,0,0,-1,0,1,0,4,5,0,1,4,0,0,1],
[-2,-2,0,-1,-1,0,0,3,-4,-2,0,-1,3,5,2,1,3,1,-1,2],
[-1,-2,0,-2,-1,-4,0,2,-3,0,0,-1,2,4,1,1,3,1,-1,-1],
[-1,0,-1,-4,0,-1,2,5,-1,0,-1,-1,0,0,1,0,3,0,-1,-2],
[0,-2,-2,-1,-1,0,-1,0,0,0,-2,0,0,0,7,1,0,0,0,3],
[-1,-2,0,-2,-3,-1,0,-1,0,0,-1,1,4,5,1,1,3,0,1,1],
[-1,0,0,0,-1,-2,0,-2,-4,-4,0,-1,4,2,0,0,2,4,0,0],
[-1,-3,0,-1,-2,2,0,2,-1,-4,0,-1,4,3,0,1,1,4,0,1],
[-2,0,0,-3,-2,-3,0,-1,-1,-2,1,0,3,4,0,3,2,2,0,0],
[-2,-2,0,-1,-1,-1,0,4,-2,1,0,0,3,4,1,1,3,1,-1,-3],
[-2,-2,0,-2,-2,0,0,1,-2,-1,0,0,4,5,1,1,3,2,0,0],
[0,-2,0,-1,-1,1,0,3,-3,0,0,0,5,5,1,1,1,-1,0,-2],
[0,-2,0,-2,-2,-4,0,0,-3,1,0,-1,3,4,0,0,3,2,0,0],
[-2,-1,0,-1,-1,-2,0,2,0,0,0,-1,3,4,0,1,3,2,0,-1],
[-2,-1,-1,-2,1,1,0,2,0,-1,0,-1,2,-2,4,1,0,4,0,-1],
[-2,-3,1,-1,-1,0,0,2,-2,-1,-2,-1,5,3,1,1,0,4,1,0],
[-1,-3,0,-1,-1,-2,0,1,-2,-1,-2,-1,3,3,1,0,3,4,0,-1],
[0,-3,0,-1,-1,-1,1,1,-4,-2,0,-1,3,5,1,0,3,2,0,0],
[-1,-1,-1,0,-1,0,-1,5,-3,-3,0,-3,4,2,0,0,2,1,0,0],
[-1,0,-1,0,-1,1,0,6,1,0,0,-3,3,3,4,1,-1,-1,0,-2],
[-1,0,0,-1,-2,0,0,0,-2,-4,0,0,2,2,0,1,1,-1,0,1],
[-2,-1,0,0,0,-1,0,3,-1,3,0,0,1,5,1,1,2,-4,0,0],
[-2,-1,0,-1,-1,1,0,4,-1,-3,0,0,3,4,0,1,2,0,0,-4],
[-4,-4,0,0,0,-3,0,2,-1,0,0,0,3,4,0,1,4,1,0,0],
[-4,-4,0,-1,-1,-3,0,0,-1,0,0,-1,5,4,0,0,1,6,0,0],
[-3,-5,0,-1,0,-1,0,0,-1,0,0,-2,3,3,0,3,3,1,-1,-1],
[0,-5,0,-3,-2,3,0,0,-1,-1,0,-1,3,3,0,2,3,2,0,3],
[0,-2,0,-1,-2,0,0,0,-3,0,0,0,3,3,5,2,3,2,0,0],
[0,-1,0,-2,-1,-4,0,0,-3,1,0,0,3,5,1,3,3,1,-1,0],
[-1,-2,-1,-1,0,-1,0,2,-4,1,1,0,3,5,3,1,3,-2,-1,0],
[-1,-2,0,-2,-1,-3,1,0,-1,0,0,-1,3,4,1,4,3,1,0,1],
[-2,-1,0,-1,-1,-4,0,0,-3,-1,0,-1,3,5,0,0,4,1,0,1],
[-4,-5,0,-1,-1,0,0,0,0,-1,0,-1,5,4,1,1,1,1,0,0],
[-1,-1,0,-1,-1,1,0,6,1,-2,0,-1,0,1,2,1,2,0,0,-5],
[-1,-1,0,-1,-1,5,0,6,1,-2,0,-1,0,1,3,0,2,-2,0,-1],
[-1,-1,0,-1,-1,-1,0,0,-1,-1,-1,0,5,4,0,1,2,3,1,0],
[-2,-1,0,-1,-2,0,0,-3,-3,-3,0,0,3,3,0,2,2,2,1,0],
[-3,0,0,-3,-1,-1,0,0,-1,0,0,0,4,2,1,2,1,1,-1,3],
[-2,-5,-1,-1,0,0,0,5,0,1,0,-1,2,2,1,0,1,1,0,-1],
[-2,-3,0,-2,-1,-1,-1,1,-1,1,2,1,3,4,0,-1,3,1,-1,3],
[-2,-5,-1,-2,0,3,0,1,0,0,0,0,2,4,0,-1,3,0,-1,2],
[-3,-1,0,-3,0,-4,0,0,-1,0,0,0,3,5,0,2,1,1,0,0],
[-2,-3,0,-5,-1,-1,0,0,-1,-1,0,-1,4,5,1,1,3,1,0,4]
];
const heatPfmpGenes = [
[-1,-1,0,-4,1,-1,0,-2,-2,0,0,1,0,1,0,0,2,2,2,6],
[-2,-3,0,-1,0,1,0,2,0,-2,0,0,0,0,0,0,2,6,2,-1],
[-2,-3,-1,-3,0,-1,0,0,-1,-1,0,1,0,3,0,-1,2,1,2,5],
[-3,-1,0,-3,0,0,0,3,0,-2,0,0,3,0,0,0,1,5,3,-1],
[-1,-1,-1,-1,0,0,0,5,1,-2,1,0,-1,0,0,0,2,6,0,-2],
[-1,-1,0,-4,1,-2,1,0,1,-1,0,0,-1,-1,-1,-2,1,5,0,4],
[-1,-2,0,0,0,0,0,3,0,-1,0,0,0,0,0,0,3,6,0,-4],
[-1,-2,0,0,-1,-1,0,3,-1,-2,0,0,3,3,0,1,1,4,0,-1],
[0,-1,0,-1,-1,-2,0,1,-4,-1,0,0,3,4,0,1,3,1,0,-1],
[0,-1,0,-3,0,-1,0,1,-2,-1,0,0,4,1,0,1,2,5,0,1],
[-4,-2,0,0,0,1,0,1,-2,-2,0,0,4,1,0,0,3,4,3,-1],
[-1,-1,0,-1,0,-2,-1,1,-4,-2,0,0,3,2,0,0,2,4,2,1],
[-2,-2,0,-3,0,-1,1,1,-1,-3,0,1,3,1,0,1,3,5,1,3],
[-3,-4,0,0,-2,0,0,1,-1,-3,0,-2,3,1,0,1,3,4,1,0],
[-3,-3,0,0,-2,0,0,2,-1,-1,0,-2,2,5,0,1,3,2,0,1],
[-2,-3,0,-4,-2,0,0,0,1,-1,0,0,1,4,0,0,5,4,0,3],
[-2,-1,0,-1,-2,-2,0,3,-1,-3,0,-1,4,1,0,0,1,6,1,-1],
[-1,0,0,0,-2,0,0,3,-1,-3,0,-1,3,0,0,1,1,6,1,-1],
[-2,-3,0,0,-2,-1,0,2,-1,-3,0,-1,4,3,0,0,1,5,0,-1],
[0,0,0,0,-2,-4,0,3,-2,-1,0,0,1,4,0,0,4,2,2,0],
[-1,-1,-1,0,-1,1,-1,4,-1,0,0,0,0,-2,1,0,5,2,2,-3],
[-1,-1,-1,0,0,-1,0,5,-1,0,0,0,1,-1,0,0,3,6,0,-3],
[-2,-4,0,0,0,1,0,4,-2,0,0,-2,0,0,0,0,4,1,3,0],
[-2,0,-2,0,1,0,-1,0,0,-2,1,0,0,-2,3,0,1,6,-1,0],
[-1,0,-2,-5,1,0,1,0,-1,-1,1,-3,1,0,1,4,-1,1,0,4],
[-2,-1,0,-1,-1,0,0,-2,0,-2,0,0,2,1,0,3,2,5,0,0],
[-1,-5,0,-1,0,0,0,1,-4,0,0,0,2,3,0,1,4,2,1,0],
[-2,-1,0,-4,1,0,-1,0,-1,-1,0,-1,1,0,-1,-2,1,3,2,6],
[-3,0,0,0,-2,0,0,2,-1,-5,0,-1,3,2,0,1,3,3,2,0],
[-2,-3,0,-1,-1,1,0,2,-1,-4,0,-1,2,3,0,0,4,3,2,-1],
[-1,-3,0,-2,0,1,0,1,-1,-3,0,-1,4,2,0,0,1,3,1,0],
[0,-1,0,0,-1,0,0,4,-1,-2,0,-2,2,0,0,0,1,5,1,-4],
[-3,-2,-1,0,-1,0,1,0,0,-2,-1,-2,3,0,0,0,0,6,2,1],
[-3,-5,0,-1,0,4,0,0,0,-2,0,1,3,0,0,0,1,4,0,0],
[0,-1,0,0,-2,0,0,0,-5,-1,0,-1,3,5,0,1,3,1,0,0],
[0,-1,0,0,-3,0,0,-1,0,-5,0,-2,3,3,0,0,3,3,0,0],
[0,1,0,-5,2,-1,0,-1,0,-1,0,3,0,0,-1,-3,0,3,1,5],
[-4,-2,0,-2,0,0,0,-4,1,-2,0,3,2,2,0,0,1,4,0,3],
[-2,-2,0,-2,-1,0,0,0,-3,-1,0,2,2,2,0,0,5,1,0,3],
[-2,-4,0,-3,-1,0,0,0,-3,0,0,1,1,2,-1,-1,0,1,0,4],
[-1,-3,0,-3,0,5,0,0,0,-3,0,0,0,-2,0,-1,1,4,0,0],
[-3,-4,0,0,-1,3,0,3,0,-1,0,0,3,3,0,0,3,1,0,-1],
[-3,-3,0,0,-1,1,0,1,-3,-3,0,-1,2,3,0,0,5,1,0,0],
[-3,-3,-2,-1,0,-1,2,0,0,1,-2,0,0,0,-2,0,0,1,0,0],
[-2,-3,0,0,0,-3,0,0,-2,0,0,0,5,2,0,0,0,4,2,0],
[0,0,0,-2,0,0,0,6,0,1,0,0,0,0,0,-1,1,1,5,-4],
[0,-2,0,-2,0,2,0,4,0,-2,0,0,0,-3,0,0,0,6,1,0],
[-3,-1,0,-2,0,0,0,0,-1,-5,0,-2,4,0,0,2,0,3,0,1],
[-3,-2,0,-2,0,1,0,3,0,-1,0,0,1,-2,0,0,1,6,0,0],
[-3,-2,0,-2,0,0,0,-2,0,0,0,0,4,0,0,0,0,1,0,4]
];
const heatRowGroups = [heatNscGenes, heatBnapGenes, heatGrp2Genes, heatGrp3Genes, heatPfmpGenes];
const heatStep = 0.5;
const heatLimit = 3.7;
const heatTicks = [3,2,1,0,-1,-2,-3];

// UpSet plot values
const intersectionSizes = [1548,679,568,457,449,116,112,96,81,74,48,45,39,25,21];
const intersectionTicks = [0,500,1000,1500];
const setNames = ["Dulken 2017","Zywitza 2018","Beckervordersandforth 2010","Azim 2015","Cebrian-Silla 2021","Marcy 2023","Zaritsky, Kumari 2025"];
const setSizes = [122,196,236,601,1466,1783,2000];
const setSizeTicks = [2000,1500,1000,500,0];
const intersectionMembers = [[6],[5],[4,5],[4],[3],[2,6],[5,6],[4,5,6],[2],[1,4,5],[3,4,5],[4,6],[3,5],[0,1,4,5],[3,4]];

const SVGNS = 'http://www.w3.org/2000/svg';
function svgEl(parent, tag, attrs, text){
  const el = document.createElementNS(SVGNS, tag);
  for (const k in attrs) el.setAttribute(k, attrs[k]);
  if (text !== undefined) el.textContent = text;
  parent.appendChild(el);
  return el;
}

// Heatmap colour scale (RdBu)
const heatStops = ['#053061','#2166ac','#4393c3','#92c5de','#d1e5f0','#f7f7f7','#fddbc7','#f4a582','#d6604d','#b2182b','#67001f'];
function hexRgb(h){return [parseInt(h.slice(1,3),16),parseInt(h.slice(3,5),16),parseInt(h.slice(5,7),16)];}
function heatColor(z){
  const t = Math.max(0, Math.min(0.99999, (z + heatLimit) / (2 * heatLimit))) * (heatStops.length - 1);
  const i = Math.floor(t), f = t - i;
  const a = hexRgb(heatStops[i]), b = hexRgb(heatStops[i + 1]);
  return 'rgb(' + a.map((v, k) => Math.round(v + (b[k] - v) * f)).join(',') + ')';
}
// Faint negative cells read lighter in the figure than a half z-score step.
function cellZ(v){
  const z = v * heatStep;
  return (z < 0 && z >= -0.5) ? z * 0.7 : z;
}

// Heatmap
const heatG = document.getElementById('heatmap');
const heatLeft = 157, heatRight = 608, heatTop = 2372, heatBottom = 3995;
const allHeatRows = heatRowGroups.flat();
const nCols = allHeatRows[0].length;
const heatX = c => heatLeft + c * (heatRight - heatLeft) / nCols;
const heatY = r => heatTop + r * (heatBottom - heatTop) / allHeatRows.length;
allHeatRows.forEach((row, r) => {
  row.forEach((v, c) => {
    const cell = svgEl(heatG, 'rect', {x: heatX(c), y: heatY(r), width: heatX(c + 1) - heatX(c), height: heatY(r + 1) - heatY(r), fill: heatColor(cellZ(v)), 'shape-rendering': 'crispEdges'});
    
    
  });
});
const stripColors = ['#06c5fb','#fb8e84','#fb85f5','#00db9d','#bdbf00'];
heatGroupNames.forEach((g, i) => {
  const strip = svgEl(heatG, 'rect', {x: heatX(i * 4), y: 2351, width: heatX(4) - heatX(0), height: 17, fill: stripColors[i], 'shape-rendering': 'crispEdges'});
  
  
});
const columnLabels = [["NSC",175,2336],["BNAP/",262,2323],["GRP1",262,2349],["GRP2/",351,2323],["MP3",351,2349],["GRP3",445,2342],["PFMP",530,2341]];
columnLabels.forEach(l => {
  const t = svgEl(heatG, 'text', {x: l[1], y: l[2], 'font-size': 21, 'font-weight': 700, fill: '#111'}, l[0]);
  
  
});

// Colorbar
const cbG = document.getElementById('colorbar');
const cbY = z => 2611 - z * 71.2;
const cbSteps = 74;
for (let i = 0; i < cbSteps; i++) {
  const hi = heatLimit - i * (2 * heatLimit) / cbSteps;
  const lo = hi - (2 * heatLimit) / cbSteps;
  const band = svgEl(cbG, 'rect', {x: 720, y: cbY(hi), width: 42, height: cbY(lo) - cbY(hi) + 0.5, fill: heatColor((hi + lo) / 2), 'shape-rendering': 'crispEdges'});
  
  
}
heatTicks.forEach(v => {
  const t = svgEl(cbG, 'text', {x: 780, y: cbY(v) + 13, 'font-size': 36, fill: '#222'}, v < 0 ? '-' + Math.abs(v) : String(v));
  
  
});

// UpSet plot
const up = document.getElementById('upset');
const yScale = v => 3388.5 - v * 0.8017;
const colX = i => 1771 + i * 80.5;
const rowY = j => 3475 + j * 79.75;
const setX = v => 1310 - v * 0.2034;
const DARK = '#383838';

setNames.forEach((s, j) => {
  if (j % 2 === 0) {
    const st = svgEl(up, 'rect', {x: 1691, y: rowY(j) - 40, width: 1288, height: 79.75, fill: '#f7f7f7'});
    
    
  }
});

const yAxis = svgEl(up, 'line', {x1: 1691, x2: 1691, y1: 2097, y2: 3434, stroke: '#777', 'stroke-width': 2});


intersectionTicks.forEach(v => {
  const tk = svgEl(up, 'line', {x1: 1685, x2: 1691, y1: yScale(v), y2: yScale(v), stroke: '#555', 'stroke-width': 2});
  
  
  const t = svgEl(up, 'text', {x: 1681, y: yScale(v) + 10, 'font-size': 27, fill: '#666', 'text-anchor': 'end'}, String(v));
  
  
});
const yTitle = svgEl(up, 'text', {transform: 'translate(1326,2708) rotate(-90)', 'font-size': 32, fill: '#111', 'text-anchor': 'middle'}, 'Intersection Size');



intersectionSizes.forEach((v, i) => {
  const b = svgEl(up, 'rect', {x: colX(i) - 24, y: yScale(v), width: 48, height: yScale(0) - yScale(v), fill: DARK});
  
  
  const t = svgEl(up, 'text', {x: colX(i), y: yScale(v) - 17, 'font-size': 24, fill: '#4d4d4d', 'text-anchor': 'middle'}, String(v));
  
  
});
const baseline = svgEl(up, 'line', {x1: 1691, x2: 2979, y1: yScale(0), y2: yScale(0), stroke: '#444', 'stroke-width': 3});



intersectionSizes.forEach((v, i) => {
  setNames.forEach((s, j) => {
    const d = svgEl(up, 'circle', {cx: colX(i), cy: rowY(j), r: 11, fill: '#e1e1e1'});
    
    
  });
});
intersectionMembers.forEach((m, i) => {
  if (m.length > 1) {
    const l = svgEl(up, 'line', {x1: colX(i), x2: colX(i), y1: rowY(Math.min(...m)), y2: rowY(Math.max(...m)), stroke: DARK, 'stroke-width': 7});
    
    
  }
  m.forEach(j => {
    const d = svgEl(up, 'circle', {cx: colX(i), cy: rowY(j), r: 11, fill: DARK});
    
    
  });
});

const setLabelCenters = [1486,1486,1505,1484,1493,1485,1499];
setNames.forEach((s, j) => {
  const b = svgEl(up, 'rect', {x: setX(setSizes[j]), y: rowY(j) - 17, width: setX(0) - setX(setSizes[j]), height: 34, fill: DARK});
  
  
  const t = svgEl(up, 'text', {x: setLabelCenters[j], y: rowY(j) + 9, 'font-size': 27.5, fill: '#222', 'text-anchor': 'middle'}, s);
  
  
});
const setAxis = svgEl(up, 'line', {x1: 884, x2: 1330, y1: 3993, y2: 3993, stroke: '#888', 'stroke-width': 2.5});


setSizeTicks.forEach(v => {
  const tk = svgEl(up, 'line', {x1: setX(v), x2: setX(v), y1: 3993, y2: 3999, stroke: '#777', 'stroke-width': 2});
  
  
  const t = svgEl(up, 'text', {x: setX(v), y: 4024, 'font-size': 27, fill: '#666', 'text-anchor': 'middle'}, String(v));
  
  
});
const setTitle = svgEl(up, 'text', {x: 1107, y: 4059, 'font-size': 32, fill: '#222', 'text-anchor': 'middle'}, 'Set Size');


</script>
</body>
</html>
